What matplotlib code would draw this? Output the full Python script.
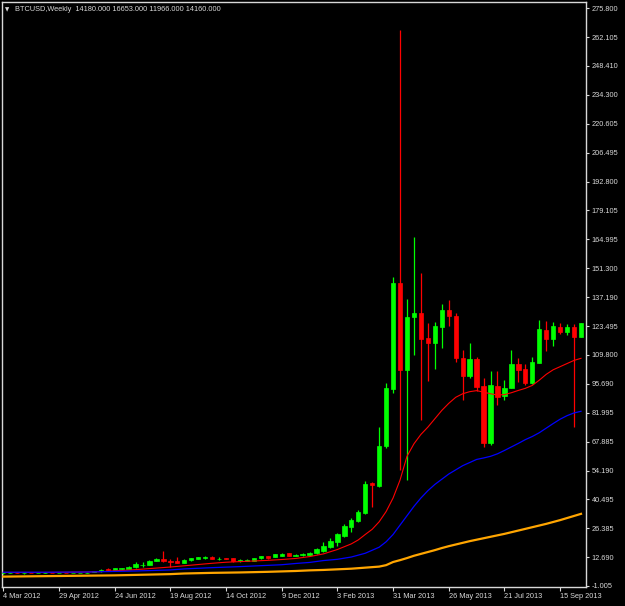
import numpy as np
import matplotlib
matplotlib.use('Agg')
import matplotlib.pyplot as plt

# Velas semanales BTCUSD (4 Mar 2012 -> 6 Oct 2013)
opens = [4.85, 4.95, 5.2, 4.9, 5.0, 4.9, 4.95, 5.1, 5.0, 5.1, 5.05, 5.1, 5.1, 5.5,
         5.9, 6.8, 6.6, 6.8, 6.9, 7.7, 8.8, 9.0, 10.9, 11.7, 11.0, 10.9, 10.0, 11.1,
         11.9, 12.4, 12.8, 11.8, 12.1, 12.2, 10.7, 10.8, 11.0, 12.0, 13.2, 12.7, 13.4, 14.4,
         13.4, 13.5, 13.6, 14.4, 15.5, 17.4, 19.8, 23.0, 27.2, 29.8, 34.0, 48.0, 47.0, 65.9,
         93.3, 144.0, 102.4, 128.0, 129.8, 117.6, 115.2, 123.2, 131.2, 128.4, 108.3, 99.7, 107.7, 94.7,
         67.2, 94.7, 89.9, 93.9, 105.1, 102.7, 96.3, 105.9, 121.6, 117.3, 123.2, 120.8, 123.2, 118.4]
highs = [5.3, 5.6, 5.4, 5.1, 5.1, 5.0, 5.6, 5.2, 5.2, 5.2, 5.2, 5.2, 5.3, 6.1,
         7.0, 7.2, 7.4, 7.5, 8.6, 10.2, 10.2, 11.4, 12.2, 15.6, 11.6, 12.7, 11.7, 12.3,
         12.9, 13.0, 13.3, 12.9, 12.3, 12.3, 11.9, 11.6, 12.4, 13.4, 13.4, 14.2, 14.4, 14.6,
         14.0, 14.4, 15.0, 16.8, 20.0, 21.8, 24.4, 28.5, 31.3, 35.3, 49.3, 48.5, 75.2, 96.0,
         147.1, 265.5, 136.3, 166.3, 149.0, 124.8, 125.6, 134.1, 136.0, 129.6, 112.0, 115.2, 108.8, 98.4,
         102.1, 101.9, 97.6, 112.0, 108.0, 105.1, 108.8, 126.4, 126.0, 125.6, 125.1, 124.3, 124.6, 125.1]
lows = [4.7, 4.8, 4.8, 4.7, 4.8, 4.8, 4.9, 4.9, 4.9, 5.0, 5.0, 5.05, 5.1, 5.4,
        5.6, 6.0, 6.4, 6.7, 6.8, 7.2, 7.9, 8.8, 10.6, 10.3, 7.9, 9.6, 9.9, 10.9,
        11.7, 11.8, 11.8, 11.2, 11.7, 10.3, 10.5, 10.6, 10.9, 11.9, 11.8, 12.5, 13.2, 13.1,
        13.2, 13.3, 13.4, 14.2, 15.0, 17.0, 18.0, 22.2, 24.8, 29.4, 33.2, 36.5, 46.5, 65.1,
        91.2, 54.4, 49.5, 109.6, 78.6, 97.0, 102.7, 113.1, 123.6, 106.1, 88.0, 98.4, 92.5, 65.6,
        66.4, 85.6, 88.0, 93.6, 96.8, 95.2, 95.5, 105.6, 111.5, 113.9, 119.5, 119.2, 75.2, 118.0]
closes = [5.0, 5.2, 4.95, 5.05, 4.9, 5.0, 5.1, 5.0, 5.1, 5.05, 5.1, 5.1, 5.2, 6.0,
          6.7, 6.6, 7.2, 7.3, 8.1, 9.4, 9.1, 10.8, 11.8, 10.6, 10.5, 9.9, 11.5, 12.1,
          12.8, 12.6, 11.9, 11.9, 11.9, 10.6, 11.3, 11.4, 12.2, 13.2, 12.3, 14.0, 14.2, 13.3,
          13.7, 14.3, 14.8, 16.4, 18.1, 20.4, 23.7, 27.4, 30.3, 34.4, 47.7, 47.2, 66.1, 93.6,
          144.0, 102.4, 128.0, 129.8, 117.4, 115.2, 123.6, 131.2, 128.3, 108.3, 99.7, 107.7, 94.4, 67.2,
          95.2, 89.6, 93.9, 105.1, 102.4, 96.3, 106.4, 121.9, 117.3, 123.5, 120.8, 123.2, 118.4, 124.8]

# Medias moviles
red_idx = [0, 6, 12, 14, 16, 18, 20, 22, 24, 26, 28, 30, 32, 34, 36, 38, 40, 42, 44, 46, 48,
           50, 51, 52, 53, 54, 55, 56, 57, 58, 59, 60, 61, 62, 63, 64, 65, 66, 67, 68, 69,
           70, 71, 72, 73, 74, 75, 76, 77, 78, 79, 80, 81, 82, 83]
red_val = [5.3, 5.3, 5.5, 5.7, 6.1, 6.4, 6.9, 7.4, 7.9, 8.5, 9.1, 9.7, 10.2, 10.5, 10.8, 11.1, 11.5, 12.0, 12.9, 14.2, 16.3,
           19.0, 20.9, 23.5, 26.0, 29.6, 34.5, 41.0, 49.6, 61.0, 67.0, 71.5, 75.0, 79.0, 83.0, 86.4, 89.3, 91.0, 92.0, 92.5, 91.8,
           91.0, 90.4, 90.6, 91.5, 92.6, 93.6, 95.0, 97.5, 100.3, 102.5, 104.0, 105.5, 107.0, 108.0]

blue_idx = [0, 6, 12, 16, 19, 24, 26, 30, 34, 36, 38, 40, 42, 44, 46, 48, 50, 52, 54, 55, 56,
            57, 58, 59, 60, 61, 62, 63, 64, 65, 66, 67, 68, 69, 70, 71, 72, 73, 74, 75, 76,
            77, 78, 79, 80, 81, 82, 83]
blue_val = [5.4, 5.4, 5.5, 5.8, 6.0, 6.5, 7.0, 7.6, 8.1, 8.4, 8.7, 9.0, 9.6, 10.1, 11.0, 11.6, 12.7, 14.5, 17.4, 20.0, 23.5,
            28.0, 32.5, 37.0, 41.0, 44.5, 47.5, 50.0, 52.5, 54.5, 56.5, 58.0, 59.5, 60.2, 61.0, 62.2, 63.8, 65.5, 67.2, 69.0, 70.5,
            72.3, 74.5, 76.7, 78.8, 80.5, 81.8, 82.6]

orange_idx = [0, 8, 16, 20, 24, 26, 30, 34, 38, 40, 42, 44, 46, 48, 50, 52, 54, 55, 56, 57, 58,
              59, 60, 61, 62, 63, 64, 65, 66, 67, 68, 69, 70, 71, 72, 73, 74, 75, 76, 77, 78,
              79, 80, 81, 82, 83]
orange_val = [3.3, 3.6, 3.9, 4.2, 4.5, 4.8, 5.1, 5.3, 5.6, 5.8, 6.0, 6.3, 6.5, 6.8, 7.1, 7.6, 8.1, 8.8, 10.3, 11.2, 12.2,
              13.3, 14.2, 15.1, 16.0, 17.0, 17.9, 18.7, 19.5, 20.3, 21.0, 21.7, 22.4, 23.1, 23.8, 24.6, 25.4, 26.2, 27.0, 27.8, 28.6,
              29.5, 30.4, 31.4, 32.4, 33.4]

date_pos = [0, 8, 16, 24, 32, 40, 48, 56, 64, 72, 80]
date_labels = ['4 Mar 2012', '29 Apr 2012', '24 Jun 2012', '19 Aug 2012', '14 Oct 2012', '9 Dec 2012',
               '3 Feb 2013', '31 Mar 2013', '26 May 2013', '21 Jul 2013', '15 Sep 2013']

price_ticks = [275.800, 262.105, 248.410, 234.300, 220.605, 206.495, 192.800, 179.105, 164.995, 151.300,
               137.190, 123.495, 109.800, 95.690, 81.995, 67.885, 54.190, 40.495, 26.385, 12.690, -1.005]

titulo = 'BTCUSD,Weekly  14180.000 16653.000 11966.000 14160.000'

fuente = 'Liberation Sans'
fs = 5.3
fg = '#d8d8d8'

fig = plt.figure(figsize=(6.25, 6.06), dpi=100, facecolor='black')
ax = fig.add_axes([2 / 625, 19 / 606, 584 / 625, 585 / 606])
ax.set_facecolor('black')

o = np.array(opens)
h = np.array(highs)
l = np.array(lows)
c = np.array(closes)
x = np.arange(len(o))
colores = np.where(c >= o, '#00ff00', '#ff0000')

ax.vlines(x, l, h, colors=colores, linewidth=0.9, zorder=2)
ax.bar(x, np.abs(c - o), bottom=np.minimum(o, c), width=0.62, color=colores,
       edgecolor=colores, linewidth=0.5, zorder=3)

ax.plot(orange_idx, orange_val, color='#ffa500', linewidth=1.6, zorder=4)
ax.plot(red_idx, red_val, color='#ff0000', linewidth=0.8, zorder=4)
ax.plot(blue_idx, blue_val, color='#0000ff', linewidth=0.9, zorder=5)

ax.set_xlim(-0.187, 83.72)
ax.set_ylim(-1.68, 278.9)

ax.set_xticks(date_pos)
ax.set_xticklabels(date_labels, ha='left', fontsize=fs, family=fuente, color=fg)
ax.yaxis.tick_right()
ax.set_yticks(price_ticks)
ax.set_yticklabels(['%.3f' % v for v in price_ticks], fontsize=fs, family=fuente, color=fg)
ax.tick_params(axis='x', direction='out', length=3, width=0.8, color=fg, pad=1)
ax.tick_params(axis='y', direction='out', length=2.5, width=0.8, color=fg, pad=1.5)

for s in ax.spines.values():
    s.set_color(fg)
    s.set_linewidth(1)

fig.text(5 / 625, 1 - 9.5 / 606, '\u25bc', fontsize=4, color=fg, va='center', ha='left')
fig.text(15 / 625, 1 - 9.5 / 606, titulo, fontsize=fs, family=fuente, color=fg, va='center', ha='left')

fig.savefig('out.png', dpi=100, facecolor='black')
